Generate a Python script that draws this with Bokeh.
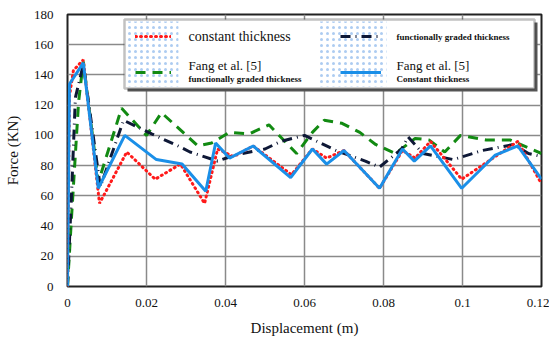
from bokeh.plotting import figure
from bokeh.models import (FixedTicker, CustomJSTickFormatter, Legend, LegendItem,
                          BoxAnnotation, Label)
from bokeh.embed import file_html
from bokeh.resources import INLINE

# ---------------- data ----------------
x_ticks = [0, 0.02, 0.04, 0.06, 0.08, 0.1, 0.12]
y_ticks = [0, 20, 40, 60, 80, 100, 120, 140, 160, 180]

const_x = [0, 0.0005, 0.0015, 0.004, 0.0081, 0.015, 0.0222, 0.0286, 0.0347, 0.038, 0.042,
           0.047, 0.0567, 0.062, 0.0656, 0.070, 0.079, 0.0848, 0.088, 0.0919, 0.0998,
           0.114, 0.12]
const_y = [0, 126, 143, 150, 55, 89, 71, 81, 55, 91, 86,
           93, 74, 91, 85, 90, 65, 90, 85, 96, 71,
           96, 68]

fang_fg_x = [0, 0.001, 0.0028, 0.004, 0.0078, 0.0137, 0.020, 0.0238, 0.033, 0.0365,
             0.041, 0.046, 0.051, 0.058, 0.062, 0.065, 0.0695, 0.074, 0.078, 0.083,
             0.088, 0.0915, 0.0955, 0.0995, 0.106, 0.112, 0.12]
fang_fg_y = [0, 45, 122, 149, 69, 118, 100, 115, 93, 95,
             102, 101, 107, 88, 102, 110, 108, 102, 94, 88,
             98, 97, 89, 100, 97, 97, 88]

fg_x = [0, 0.001, 0.002, 0.004, 0.0083, 0.0142, 0.0213, 0.028, 0.031, 0.038, 0.0425,
        0.050, 0.054, 0.060, 0.068, 0.0754, 0.079, 0.0846, 0.0862, 0.090, 0.0977,
        0.105, 0.113, 0.1167, 0.12]
fg_y = [0, 60, 125, 147, 66, 110, 101, 93, 89, 83, 87,
        91, 96, 100, 90, 83, 79, 91, 99, 88, 84,
        90, 94, 88, 86]

fang_const_x = [0, 0.0005, 0.004, 0.0078, 0.0145, 0.0225, 0.029, 0.035, 0.0375, 0.041,
                0.047, 0.0565, 0.062, 0.0656, 0.070, 0.079, 0.0848, 0.0878, 0.0919,
                0.0998, 0.1083, 0.114, 0.12]
fang_const_y = [0, 134, 148, 65, 100, 84, 81, 63, 95, 85,
                93, 72, 91, 81, 90, 65, 91, 83, 93,
                65, 87, 93, 71]

FONT = "Liberation Serif"

p = figure(frame_width=474, frame_height=272,
           x_range=(0, 0.12), y_range=(0, 180),
           output_backend="svg", toolbar_location=None,
           min_border_left=67, min_border_right=8, min_border_top=14, min_border_bottom=43,
           background_fill_color="white", border_fill_color="white")

p.outline_line_color = "#222222"
p.outline_line_width = 2

for ax in (p.xaxis[0], p.yaxis[0]):
    ax.axis_line_color = None
    ax.major_tick_line_color = None
    ax.minor_tick_line_color = None
    ax.major_label_text_font = FONT
    ax.major_label_text_font_size = "13px"
    ax.major_label_text_color = "#111111"
    ax.axis_label_text_font = FONT
    ax.axis_label_text_font_size = "15px"
    ax.axis_label_text_font_style = "normal"
    ax.axis_label_text_color = "#111111"

p.xaxis.ticker = FixedTicker(ticks=x_ticks)
p.yaxis.ticker = FixedTicker(ticks=y_ticks)
p.xaxis.formatter = CustomJSTickFormatter(code="return String(Math.round(tick*100)/100);")
p.xaxis.axis_label = "Displacement (m)"
p.yaxis.axis_label = "Force (KN)"
p.xaxis.major_label_standoff = 6
p.yaxis.major_label_standoff = 8
p.xaxis.axis_label_standoff = 10
p.yaxis.axis_label_standoff = 10

p.xgrid.grid_line_color = "#8a8a8a"
p.ygrid.grid_line_color = "#8a8a8a"
p.xgrid.grid_line_width = 1.5
p.ygrid.grid_line_width = 1.5

r_fg_fang = p.line(fang_fg_x, fang_fg_y, line_color="#128a12", line_width=3,
                   line_dash="10 7")
r_fg = p.line(fg_x, fg_y, line_color="#0e1836", line_width=3,
              line_dash="10 5 1 5")
r_const = p.line(const_x, const_y, line_color="#ff1a1a", line_width=3,
                 line_dash="1 4", line_cap="round")
r_const_fang = p.line(fang_const_x, fang_const_y, line_color="#1a8fe8", line_width=3)

# ---------------- legend box ----------------
def dx(px):
    return (px - 69) * 0.12 / 474

def dy(py):
    return (288 - py) * 180 / 272

shadow = BoxAnnotation(left=dx(129), right=dx(539), top=dy(24), bottom=dy(93),
                       fill_color="#555555", fill_alpha=1, line_color=None, level="overlay")
box = BoxAnnotation(left=dx(126), right=dx(536), top=dy(21), bottom=dy(90),
                    fill_color="white", fill_alpha=1, line_color="#333333",
                    line_width=2.5, level="overlay")
p.add_layout(shadow)
p.add_layout(box)
for l, r in ((128, 180), (320, 388)):
    p.add_layout(BoxAnnotation(left=dx(l), right=dx(r), top=dy(23), bottom=dy(88),
                               fill_alpha=0, line_color=None, hatch_pattern=".",
                               hatch_color="#4a8fe0", hatch_scale=6, hatch_weight=0.5,
                               hatch_alpha=0.45, level="overlay"))

leg_left = Legend(items=[LegendItem(label=" ", renderers=[r_const]),
                         LegendItem(label=" ", renderers=[r_fg_fang])],
                  location=(68, 204), glyph_width=36, glyph_height=20, spacing=16,
                  padding=0, margin=0, label_text_font_size="1px", label_standoff=0,
                  label_width=1, label_height=1,
                  border_line_color=None, background_fill_alpha=0)
leg_right = Legend(items=[LegendItem(label=" ", renderers=[r_fg]),
                          LegendItem(label=" ", renderers=[r_const_fang])],
                   location=(273, 204), glyph_width=41, glyph_height=20, spacing=16,
                   padding=0, margin=0, label_text_font_size="1px", label_standoff=0,
                   label_width=1, label_height=1,
                   border_line_color=None, background_fill_alpha=0)
p.add_layout(leg_left)
p.add_layout(leg_right)

def lbl(text, px, py, size, style="normal"):
    p.add_layout(Label(x=dx(px), y=dy(py), text=text, text_font=FONT,
                       text_font_size=size, text_font_style=style,
                       text_baseline="middle", text_align="left",
                       text_color="#111111", level="overlay"))

lbl("constant thickness", 190, 38, "14px")
lbl("Fang et al. [5]", 190, 67, "13px")
lbl("functionally graded thickness", 190, 80, "9px", "bold")
lbl("functionally graded thickness", 398, 38, "9px", "bold")
lbl("Fang et al. [5]", 398, 67, "13px")
lbl("Constant thickness", 398, 80, "9px", "bold")

open("out.html", "w").write(file_html(p, INLINE))
